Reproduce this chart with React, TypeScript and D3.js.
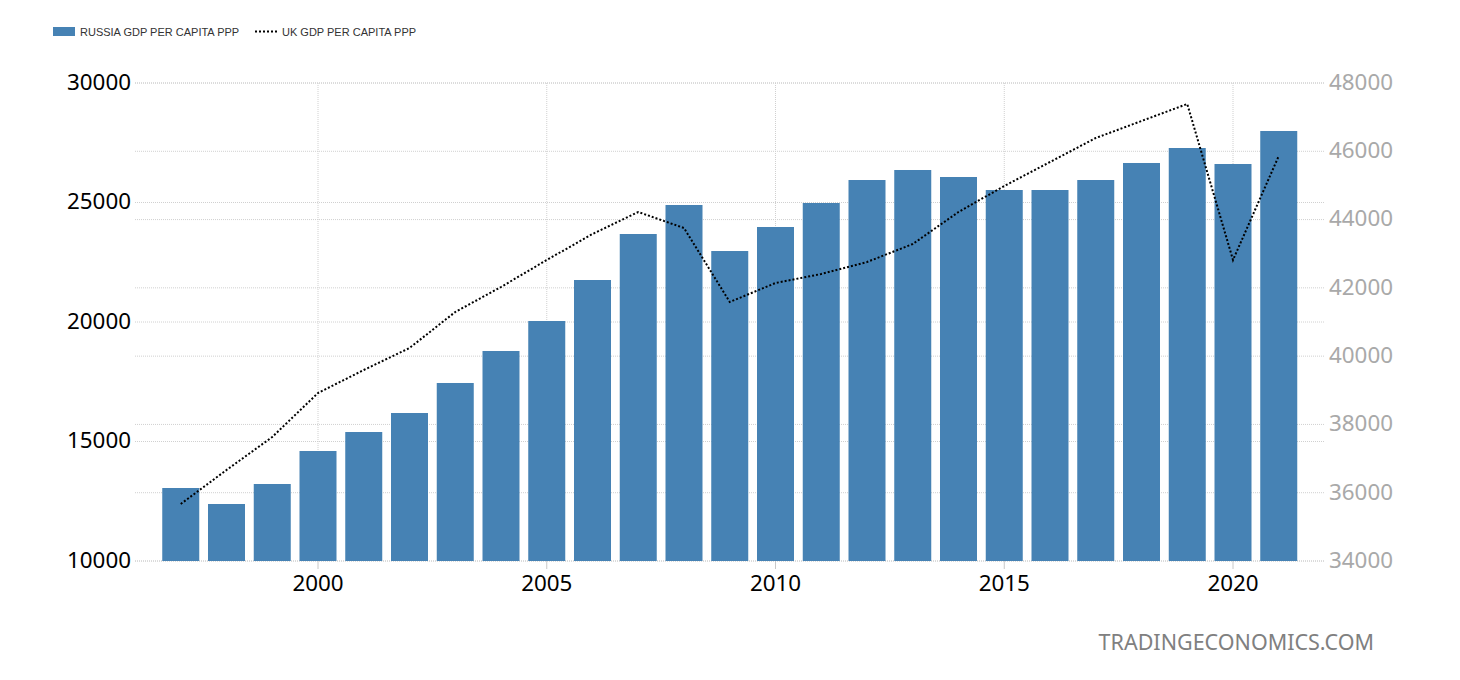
import React from "react";
import * as d3 from "d3";

const years = [1997,1998,1999,2000,2001,2002,2003,2004,2005,2006,2007,2008,2009,2010,2011,2012,2013,2014,2015,2016,2017,2018,2019,2020,2021];
const russia = [13054,12385,13222,14603,15397,16192,17448,18787,20042,21757,23682,24895,22970,23975,24979,25941,26360,26067,25523,25523,25941,26653,27280,26611,27992];
const uk = [35670,36665,37632,38920,39594,40238,41293,42025,42816,43577,44222,43753,41586,42142,42406,42757,43284,44222,44983,45686,46389,46887,47385,42816,45862];
const leftTicks = [10000,15000,20000,25000,30000];
const rightTicks = [34000,36000,38000,40000,42000,44000,46000,48000];
const xTicks = [2000,2005,2010,2015,2020];
const russiaLabel = "RUSSIA GDP PER CAPITA PPP";
const ukLabel = "UK GDP PER CAPITA PPP";
const watermark = "TRADINGECONOMICS.COM";

const W = 1460, H = 680;
const top = 83, bottom = 561, gridL = 135, gridR = 1325;
const x = d3.scaleLinear().domain([2000, 2020]).range([318, 1233]);
const yL = d3.scaleLinear().domain([10000, 30000]).range([bottom, top]);
const yR = d3.scaleLinear().domain([34000, 48000]).range([bottom, top]);
const barW = 37;
const line = d3.line<number>().x((_, i) => x(years[i])).y(d => yR(d));
const font = "'Noto Sans', sans-serif";
const legendFont = "'Liberation Sans', sans-serif";
const grid = "#d0d0d0";

export default function App() {
  return (
    <svg width={W} height={H} style={{ position: "absolute", left: 0, top: 0, background: "#fff" }}>
      {rightTicks.map(t => (
        <line key={t} x1={gridL} x2={gridR} y1={yR(t)} y2={yR(t)} stroke={grid} strokeDasharray="1 1" />
      ))}
      {leftTicks.map(t => (
        <line key={t} x1={gridL} x2={gridR} y1={yL(t)} y2={yL(t)} stroke={grid} strokeDasharray="1 1" />
      ))}
      {xTicks.map(t => (
        <g key={t}>
          <line x1={x(t)} x2={x(t)} y1={top} y2={bottom} stroke={grid} strokeDasharray="1 1" />
          <line x1={x(t)} x2={x(t)} y1={bottom} y2={bottom + 8} stroke="#c8c8c8" />
        </g>
      ))}
      {russia.map((v, i) => (
        <rect key={years[i]} x={x(years[i]) - barW / 2} y={yL(v)} width={barW} height={bottom - yL(v)} fill="#4682b4" />
      ))}
      <path d={line(uk) ?? ""} fill="none" stroke="#000" strokeWidth={2} strokeDasharray="2 2" />
      {leftTicks.map(t => (
        <text key={t} x={131} y={yL(t) - 1} dy="0.35em" textAnchor="end" fontFamily={font} fontSize={22.4} fill="#000">{t}</text>
      ))}
      {rightTicks.map(t => (
        <text key={t} x={1329} y={yR(t) - 1} dy="0.35em" fontFamily={font} fontSize={22.4} fill="#a9a9a9">{t}</text>
      ))}
      {xTicks.map(t => (
        <text key={t} x={x(t)} y={591} textAnchor="middle" fontFamily={font} fontSize={22.4} fill="#000">{t}</text>
      ))}
      <rect x={53} y={27} width={22} height={9} fill="#4682b4" />
      <text x={80} y={36} fontFamily={legendFont} fontSize={11} fill="#333">{russiaLabel}</text>
      <line x1={255} x2={277} y1={31.5} y2={31.5} stroke="#000" strokeWidth={2} strokeDasharray="2 2" />
      <text x={282} y={36} fontFamily={legendFont} fontSize={11} fill="#333">{ukLabel}</text>
      <text x={1374} y={650} textAnchor="end" fontFamily={font} fontSize={21.5} fill="#808080">{watermark}</text>
    </svg>
  );
}
